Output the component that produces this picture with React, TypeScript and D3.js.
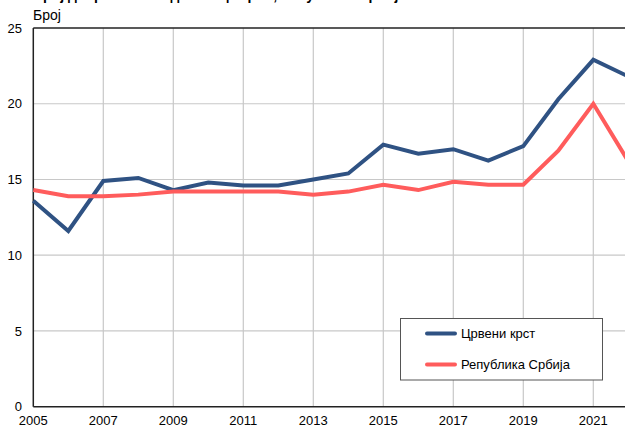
import React from "react";
import * as d3 from "d3";

const years = [2005, 2006, 2007, 2008, 2009, 2010, 2011, 2012, 2013, 2014, 2015, 2016, 2017, 2018, 2019, 2020, 2021, 2022];
const redCross = [13.6, 11.6, 14.9, 15.1, 14.3, 14.8, 14.6, 14.6, 15.0, 15.4, 17.3, 16.7, 17.0, 16.25, 17.2, 20.3, 22.9, 21.8];
const serbia = [14.3, 13.9, 13.9, 14.0, 14.2, 14.2, 14.2, 14.2, 14.0, 14.2, 14.65, 14.3, 14.85, 14.65, 14.65, 16.9, 20.0, 16.2];
const seriesNames = ["Црвени крст", "Република Србија"];
const xTicks = [2005, 2007, 2009, 2011, 2013, 2015, 2017, 2019, 2021];
const yTicks = [0, 5, 10, 15, 20, 25];
const yLabel = "Број";
const title = "Број добровољних давалаца крви, Република Србија";

const W = 625;
const H = 428;
const FONT = "'Liberation Sans', Arial, sans-serif";
const BLUE = "#2F5283";
const RED = "#FF5C5C";

export default function App() {
  const x = d3.scaleLinear().domain([2005, 2022]).range([33.3, 33.3 + 17 * 35]);
  const y = d3.scaleLinear().domain([0, 25]).range([406.7, 28]);
  const line = d3
    .line<number>()
    .x((_, i) => x(years[i]))
    .y((d) => y(d));
  const series = [
    { name: seriesNames[0], values: redCross, color: BLUE },
    { name: seriesNames[1], values: serbia, color: RED },
  ];
  const right = W + 10;
  return (
    <svg
      width={W}
      height={H}
      style={{ position: "absolute", left: 0, top: 0, background: "#fff" }}
      fontFamily={FONT}
    >
      <rect x={0} y={0} width={W} height={H} fill="#fff" />
      <text x={33} y={0} fontSize={14} fontWeight="bold" fill="#000">
        {title}
      </text>
      <text x={33} y={19.5} fontSize={14} fill="#000">
        {yLabel}
      </text>
      {yTicks.filter((t) => t > 0 && t < 25).map((t) => (
        <line key={"gy" + t} x1={x(2005)} x2={right} y1={y(t)} y2={y(t)} stroke="#c8c8c8" strokeWidth={1.2} />
      ))}
      {xTicks.filter((t) => t > 2005).map((t) => (
        <line key={"gx" + t} x1={x(t)} x2={x(t)} y1={y(25)} y2={y(0)} stroke="#c8c8c8" strokeWidth={1.2} />
      ))}
      <line x1={x(2005)} x2={right} y1={y(25)} y2={y(25)} stroke="#222" strokeWidth={1.5} />
      <line x1={x(2005)} x2={right} y1={y(0)} y2={y(0)} stroke="#222" strokeWidth={1.5} />
      <line x1={x(2005)} x2={x(2005)} y1={y(25)} y2={y(0)} stroke="#222" strokeWidth={1.5} />
      {yTicks.map((t) => (
        <text key={"ty" + t} x={22} y={y(t)} dy="0.35em" textAnchor="end" fontSize={13} fill="#000">
          {t}
        </text>
      ))}
      {xTicks.map((t) => (
        <text key={"tx" + t} x={x(t)} y={425} textAnchor="middle" fontSize={13} fill="#000">
          {t}
        </text>
      ))}
      {series.map((s) => (
        <path
          key={s.name}
          d={line(s.values) || ""}
          fill="none"
          stroke={s.color}
          strokeWidth={4}
          strokeLinejoin="miter"
        />
      ))}
      <rect x={400.5} y={318.5} width={202} height={61.5} fill="#fff" stroke="#555" strokeWidth={1} />
      {series.map((s, i) => (
        <g key={"lg" + s.name}>
          <line x1={427} x2={455} y1={333.5 + i * 31} y2={333.5 + i * 31} stroke={s.color} strokeWidth={4} strokeLinecap="round" />
          <text x={461} y={333.5 + i * 31} dy="0.35em" fontSize={13} fill="#000">
            {s.name}
          </text>
        </g>
      ))}
    </svg>
  );
}
